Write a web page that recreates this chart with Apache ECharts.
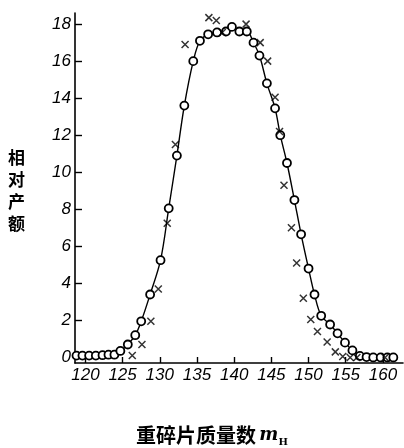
<!DOCTYPE html>
<html>
<head>
<meta charset="utf-8">
<script src="https://cdn.jsdelivr.net/npm/echarts@6/dist/echarts.min.js"></script>
<style>
html,body{margin:0;padding:0;background:#fff;}
#chart{width:404px;height:448px;}
</style>
</head>
<body>
<div id="chart"></div>
<script>
// Heavy fragment mass number m_H vs relative yield
const xTicks = [120, 125, 130, 135, 140, 145, 150, 155, 160];
const yTicks = [0, 2, 4, 6, 8, 10, 12, 14, 16, 18];

// circles (with smooth curve): [mass, yield]
const circleMass = [118.8, 119.6, 120.5, 121.4, 122.3, 123.1, 123.9, 124.7, 125.7, 126.7,
  127.5, 128.7, 130.1, 131.2, 132.3, 133.3, 134.5, 135.4, 136.5, 137.7,
  138.9, 139.7, 140.7, 141.7, 142.6, 143.4, 144.4, 145.5, 146.2, 147.1,
  148.1, 149.0, 150.0, 150.8, 151.7, 152.9, 153.9, 154.9, 155.9, 156.9,
  157.8, 158.7, 159.7, 160.6, 161.4];
const circleYield = [0.1, 0.1, 0.1, 0.1, 0.12, 0.15, 0.15, 0.35, 0.7, 1.2,
  1.95, 3.4, 5.25, 8.05, 10.9, 13.6, 16.0, 17.1, 17.45, 17.55,
  17.6, 17.85, 17.6, 17.6, 17.0, 16.3, 14.8, 13.45, 12.0, 10.5,
  8.5, 6.65, 4.8, 3.4, 2.25, 1.78, 1.3, 0.8, 0.38, 0.08,
  0.02, 0.0, 0.0, 0.0, 0.0];

// crosses: [mass, yield]
const crossMass = [126.3, 127.6, 128.8, 129.8, 131.0, 132.1, 133.4, 136.6, 137.6, 138.4,
  141.6, 143.5, 144.5, 145.5, 146.1, 146.7, 147.7, 148.4, 149.3, 150.3,
  151.2, 152.5, 153.6, 154.6, 155.6, 156.5, 160.3];
const crossYield = [0.1, 0.7, 1.95, 3.7, 7.25, 11.5, 16.9, 18.35, 18.2, 17.55,
  18.0, 17.0, 16.0, 14.05, 12.2, 9.3, 7.0, 5.1, 3.2, 2.05,
  1.4, 0.83, 0.3, 0.05, 0.0, 0.0, 0.0];

const xTitle = '重碎片质量数';
const yTitle = '相对产额';

const circleData = circleMass.map((m, i) => [m, circleYield[i]]);
const crossData = crossMass.map((m, i) => [m, crossYield[i]]);

const numFont = '"Liberation Sans Narrow", "Liberation Sans", sans-serif';

const chart = echarts.init(document.getElementById('chart'), null, {renderer: 'canvas'});
chart.setOption({
  animation: false,
  backgroundColor: '#fff',
  grid: {left: 75, right: 1, top: 13, bottom: 85, containLabel: false},
  xAxis: {
    type: 'value',
    min: 118.6,
    max: 162.7,
    axisLine: {show: true, onZero: false, lineStyle: {color: '#000', width: 1.6}},
    axisTick: {show: true, inside: true, length: 6, customValues: xTicks, lineStyle: {color: '#000', width: 1.4}},
    axisLabel: {
      customValues: xTicks, margin: 4, color: '#000',
      fontFamily: numFont, fontStyle: 'italic', fontSize: 17
    },
    splitLine: {show: false}
  },
  yAxis: {
    type: 'value',
    min: -0.3,
    max: 18.6,
    axisLine: {show: true, onZero: false, lineStyle: {color: '#000', width: 1.6}},
    axisTick: {show: true, inside: true, length: 7, customValues: yTicks, lineStyle: {color: '#000', width: 1.4}},
    axisLabel: {
      customValues: yTicks, margin: 4, color: '#000',
      fontFamily: numFont, fontStyle: 'italic', fontSize: 17
    },
    splitLine: {show: false}
  },
  graphic: [{
    type: 'text',
    left: 8,
    top: 147,
    style: {
      text: yTitle.split('').join('\n'),
      font: 'bold 17px "Noto Sans CJK SC"',
      lineHeight: 22,
      fill: '#000'
    }
  }, {
    type: 'text',
    left: 136,
    top: 425,
    style: {
      text: '{a|' + xTitle + '} {m|m}{h|H}',
      fill: '#000',
      rich: {
        a: {fontFamily: '"Noto Sans CJK SC"', fontSize: 20, fontWeight: 'bold', fill: '#000', lineHeight: 24},
        m: {fontFamily: '"DejaVu Serif"', fontStyle: 'italic', fontSize: 18, fontWeight: 'bold', fill: '#000'},
        h: {fontFamily: '"DejaVu Serif"', fontSize: 10, fontWeight: 'bold', fill: '#000', verticalAlign: 'bottom', lineHeight: 10}
      }
    }
  }],
  series: [
    {
      type: 'line',
      data: circleData,
      smooth: 0.35,
      symbol: 'circle',
      symbolSize: 8,
      showAllSymbol: true,
      lineStyle: {color: '#000', width: 1.4},
      itemStyle: {color: '#fff', borderColor: '#000', borderWidth: 1.8},
      z: 3
    },
    {
      type: 'scatter',
      data: crossData,
      symbol: 'path://M0,0L10,10M10,0L0,10',
      symbolSize: 7,
      itemStyle: {color: 'rgba(0,0,0,0)', borderColor: '#000', borderWidth: 1.5},
      z: 4
    }
  ]
});
</script>
</body>
</html>
